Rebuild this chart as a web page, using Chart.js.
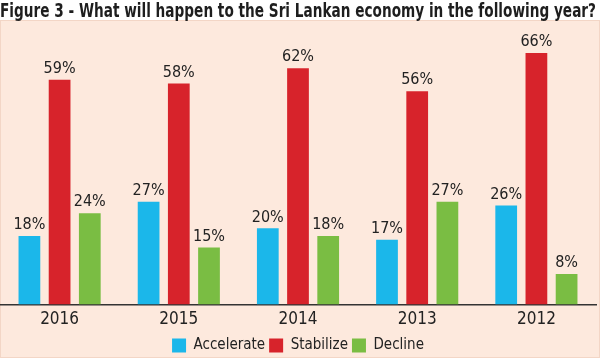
<!DOCTYPE html>
<html>
<head>
<meta charset="utf-8">
<script src="https://cdn.jsdelivr.net/npm/chart.js@4"></script>
<style>
  html, body { margin: 0; padding: 0; background: #fff; }
  #wrap { width: 600px; height: 358px; }
</style>
</head>
<body>
<div id="wrap"><canvas id="myChart" width="600" height="358"></canvas></div>
<script>
'use strict';

let years = ['2016', '2015', '2014', '2013', '2012'];
let accelerate = [18, 27, 20, 17, 26];
let stabilize = [59, 58, 62, 56, 66];
let decline = [24, 15, 18, 27, 8];

const ctx = document.getElementById('myChart');
const fam = '"Liberation Sans Narrow", "DejaVu Sans Condensed", sans-serif';

// pink panel behind the plot, title sits on white
const panelBg = {
  id: 'panelBg',
  beforeDraw(chart) {
    let c = chart.ctx;
    c.save();
    c.fillStyle = '#fde9dd';
    c.fillRect(0, 20, chart.width, chart.height - 20);
    c.strokeStyle = '#f3d6c6';
    c.lineWidth = 1;
    c.strokeRect(0.5, 20.5, chart.width - 1, chart.height - 21);
    c.restore();
  }
};

// percent labels above each bar
const barLabels = {
  id: 'barLabels',
  afterDatasetsDraw(chart) {
    let c = chart.ctx;
    c.save();
    c.font = '16px ' + fam;
    c.fillStyle = '#222';
    c.textAlign = 'center';
    c.textBaseline = 'bottom';
    chart.data.datasets.forEach(function(ds, i) {
      chart.getDatasetMeta(i).data.forEach(function(bar, j) {
        c.fillText(ds.data[j] + '%', bar.x, bar.y - 3);
      });
    });
    c.restore();
  }
};

new Chart(ctx, {
  type: 'bar',
  data: {
    labels: years,
    datasets: [{
      label: 'Accelerate',
      data: accelerate,
      backgroundColor: '#1bb7ea'
    }, {
      label: 'Stabilize',
      data: stabilize,
      backgroundColor: '#d7232b'
    }, {
      label: 'Decline',
      data: decline,
      backgroundColor: '#7abd43'
    }]
  },
  options: {
    responsive: false,
    animation: false,
    categoryPercentage: 0.76,
    barPercentage: 0.72,
    layout: { padding: { left: 0, right: 4, top: 0, bottom: -5 } },
    plugins: {
      title: {
        display: true,
        text: 'Figure 3 - What will happen to the Sri Lankan economy in the following year?',
        color: '#1e1e1e',
        font: { family: fam, size: 20, weight: 'bold' },
        padding: { top: 0, bottom: 10 }
      },
      legend: {
        position: 'bottom',
        labels: {
          color: '#222',
          boxWidth: 14,
          boxHeight: 14,
          padding: 4,
          font: { family: fam, size: 15 }
        }
      },
      tooltip: { enabled: false }
    },
    scales: {
      x: {
        grid: { display: false },
        border: { color: '#333', width: 1.5 },
        ticks: {
          color: '#222',
          padding: -3,
          font: { family: fam, size: 17 }
        },
        afterFit(scale) {
          scale.height += 7;
        }
      },
      y: {
        display: false,
        beginAtZero: true,
        max: 71
      }
    }
  },
  plugins: [panelBg, barLabels]
});
</script>
</body>
</html>
